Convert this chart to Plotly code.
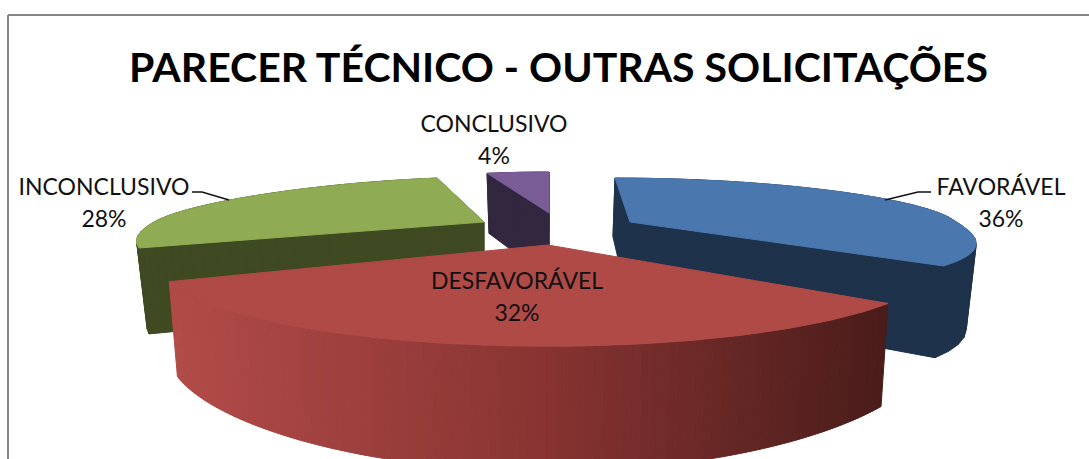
import math
import plotly.graph_objects as go

categories = ["FAVORÁVEL", "DESFAVORÁVEL", "INCONCLUSIVO", "CONCLUSIVO"]
values = [36, 32, 28, 4]
title_text = "PARECER TÉCNICO - OUTRAS SOLICITAÇÕES"

top_colors = ["#4A78AE", "#B04A47", "#8FAC54", "#7A5C97"]
side_colors = ["#1E324B", None, "#3F4A22", "#33263F"]
FONT = "Lato, Carlito, Calibri, sans-serif"

# projection of each exploded slice of the tilted pie
geom = [
    dict(ax=630, ay=222, rx=326, kf=.10, kn=.33, ryf=44, ryn=69, q=0, sk=-15, skn=-15, h0=79, h1=20, d0=-2, d1=-8.5),
    dict(ax=548, ay=245, rx=373, kf=0, kn=.287, ryf=40, ryn=75, q=.35, sk=0, skn=0, h0=88, h1=0, d0=0, d1=-9),
    dict(ax=484, ay=222, rx=330, kf=.17, kn=0, ryf=45.4, ryn=61, q=0, sk=22.3, skn=109, h0=80, h1=14, d0=0, d1=-11),
    dict(ax=549, ay=213, rx=249, kf=0, kn=0, ryf=41, ryn=41, q=0, sk=0, skn=0, h0=65, h1=5, d0=0, d1=-8),
]
label_pos = [(1001, 189, 221), (517, 283, 315), (104, 189, 221), (494, 126, 158)]
leaders = [
    ([885, 918, 931], [200, 192, 192]),
    ([229, 202, 192], [200, 192, 192]),
]


def project(g, theta, t=1.0):
    u, v = t * math.sin(theta), t * math.cos(theta)
    k = g["kf"] if v > 0 else g["kn"]
    sk = g["sk"] if v > 0 else g["skn"]
    x = g["ax"] + g["rx"] * u * (1 - k * v) + sk * v
    y = g["ay"] - (g["ryf"] * v if v > 0 else g["ryn"] * v * (1 + g["q"] * abs(v)))
    return x, y


def lower(g, theta, t=1.0):
    x, y = project(g, theta, t)
    u, v = t * math.sin(theta), t * math.cos(theta)
    h = g["h0"] - g["h1"] * v
    if g["q"]:
        h += 37 * v * v
    return x + g["d0"] + g["d1"] * u, y + h


def poly(fig, xs, ys, color):
    fig.add_trace(go.Scatter(x=xs, y=ys, mode="lines", fill="toself", fillcolor=color,
                             line=dict(color=color, width=1), hoverinfo="skip", showlegend=False))


def mix(a, b, f):
    return "rgb(" + ",".join(str(round(a[i] + (b[i] - a[i]) * f)) for i in range(3)) + ")"


fig = go.Figure()
total = sum(values)
spans = []
c = 0
for val in values:
    spans.append((c / total * 2 * math.pi, (c + val) / total * 2 * math.pi))
    c += val

for i in [3, 0, 2, 1]:
    g = geom[i]
    a, b = spans[i]
    n = 100
    thetas = [a + (b - a) * j / n for j in range(n + 1)]
    if side_colors[i]:
        # two cut faces, then outer rim
        for th in (a, b):
            p0, p1 = project(g, th), project(g, th, 0)
            q0, q1 = lower(g, th), lower(g, th, 0)
            poly(fig, [p0[0], p1[0], q1[0], q0[0], p0[0]], [p0[1], p1[1], q1[1], q0[1], p0[1]], side_colors[i])
    start, mid_c, end = (178, 75, 72), (138, 53, 51), (74, 28, 26)
    xmin, xmax = project(g, b)[0], project(g, a)[0]
    step = 1 if not side_colors[i] else 4
    for j in range(0, n, step):
        t0, t1 = thetas[j], thetas[min(j + step, n)]
        p0, p1, q1, q0 = project(g, t0), project(g, t1), lower(g, t1), lower(g, t0)
        if side_colors[i]:
            col = side_colors[i]
        else:
            f = ((p0[0] + p1[0]) / 2 - xmin) / (xmax - xmin)
            col = mix(start, mid_c, f * 2) if f < .5 else mix(mid_c, end, (f - .5) * 2)
        poly(fig, [p0[0], p1[0], q1[0], q0[0], p0[0]], [p0[1], p1[1], q1[1], q0[1], p0[1]], col)
    pts = [project(g, t) for t in thetas] + [project(g, a, 0), project(g, a)]
    poly(fig, [p[0] for p in pts], [p[1] for p in pts], top_colors[i])

for lx, ly in leaders:
    fig.add_trace(go.Scatter(x=lx, y=ly, mode="lines", line=dict(color="#111111", width=1.5),
                             hoverinfo="skip", showlegend=False))

fig.add_trace(go.Scatter(x=[p[0] for p in label_pos], y=[p[1] for p in label_pos], text=categories,
                         mode="text", textposition="middle center", textfont=dict(family=FONT, size=23, color="#111111"),
                         hoverinfo="skip", showlegend=False))
fig.add_trace(go.Scatter(x=[p[0] for p in label_pos], y=[p[2] for p in label_pos],
                         text=[f"{round(v / total * 100)}%" for v in values],
                         mode="text", textposition="middle center", textfont=dict(family=FONT, size=23, color="#111111"),
                         hoverinfo="skip", showlegend=False))
fig.add_annotation(x=558, y=66, text=f"<b>{title_text}</b>", showarrow=False, xref="x", yref="y",
                   font=dict(family=FONT, size=41, color="#000000"))

frame = "#878787"
fig.add_shape(type="line", x0=8, x1=1089, y0=15, y1=15, line=dict(color=frame, width=2))
fig.add_shape(type="line", x0=8, x1=8, y0=15, y1=459, line=dict(color=frame, width=2))

fig.update_layout(width=1089, height=459, margin=dict(l=0, r=0, t=0, b=0),
                  paper_bgcolor="white", plot_bgcolor="white", showlegend=False,
                  xaxis=dict(range=[0, 1089], visible=False, fixedrange=True),
                  yaxis=dict(range=[459, 0], visible=False, fixedrange=True))
fig.write_html("out.html", config=dict(displayModeBar=False),
               post_script="document.body.style.margin='0';document.body.style.overflow='hidden';")
